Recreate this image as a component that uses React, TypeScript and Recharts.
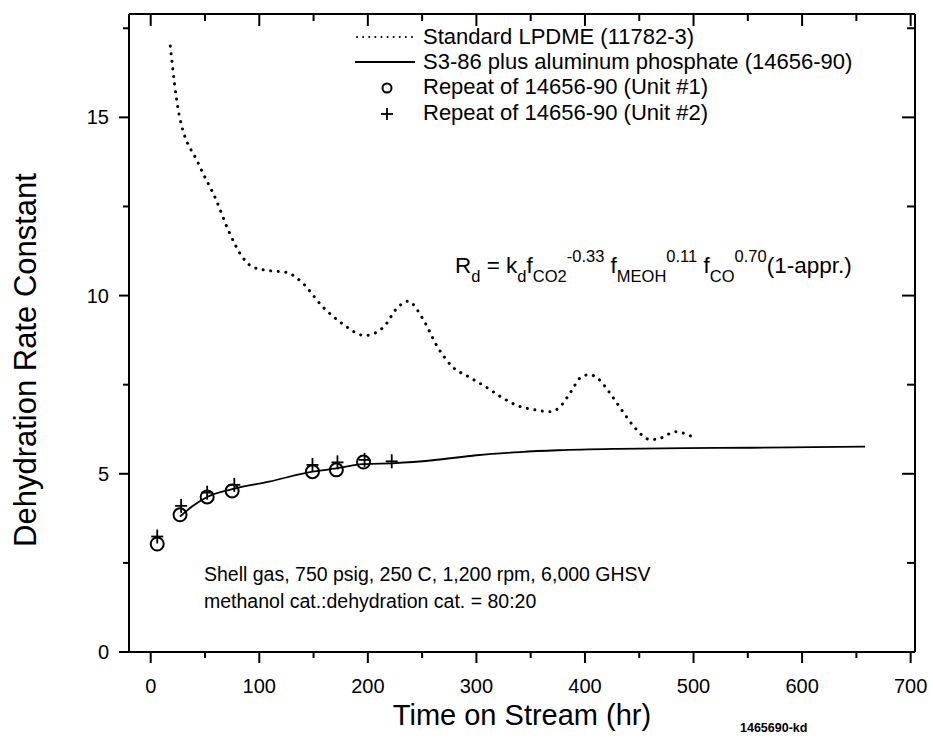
import React from 'react';
import { ComposedChart, Line, Scatter, XAxis, YAxis, Legend } from 'recharts';

// Standard LPDME (11782-3), dotted
const standardX = [18, 26, 44, 60, 72, 84, 94, 109, 125, 140, 158, 177, 197, 214, 227, 237, 251, 264, 278, 293, 308, 322, 338, 353, 368, 376, 387, 396, 404, 412, 424, 435, 446, 453, 460, 468, 476, 483, 499];
const standardY = [17.0, 15.1, 13.7, 12.7, 11.8, 11.1, 10.8, 10.7, 10.65, 10.35, 9.7, 9.2, 8.88, 9.1, 9.65, 9.84, 9.33, 8.57, 8.0, 7.72, 7.45, 7.17, 6.91, 6.8, 6.74, 6.85, 7.3, 7.7, 7.78, 7.67, 7.22, 6.74, 6.29, 6.07, 5.96, 5.98, 6.1, 6.18, 6.04];

// S3-86 plus aluminum phosphate (14656-90), solid
const solidX = [27, 38, 52, 75, 109, 149, 171, 195, 225, 260, 300, 340, 375, 430, 492, 554, 609, 658];
const solidY = [3.8, 4.08, 4.35, 4.57, 4.78, 5.06, 5.15, 5.27, 5.3, 5.38, 5.52, 5.61, 5.66, 5.7, 5.72, 5.73, 5.75, 5.76];

// repeats
const unit1X = [6, 27, 52, 75, 149, 171, 196];
const unit1Y = [3.03, 3.85, 4.35, 4.52, 5.06, 5.11, 5.33];
const unit2X = [6, 28, 52, 77, 149, 172, 197, 222];
const unit2Y = [3.24, 4.1, 4.47, 4.69, 5.25, 5.32, 5.39, 5.35];

const xTicks = [0, 50, 100, 150, 200, 250, 300, 350, 400, 450, 500, 550, 600, 650, 700];
const yTicks = [0, 2.5, 5, 7.5, 10, 12.5, 15, 17.5];

const legendNames = [
  'Standard LPDME (11782-3)',
  'S3-86 plus aluminum phosphate (14656-90)',
  'Repeat of 14656-90 (Unit #1)',
  'Repeat of 14656-90 (Unit #2)',
];

const notes = ['Shell gas, 750 psig, 250 C, 1,200 rpm, 6,000 GHSV', 'methanol cat.:dehydration cat. = 80:20'];

const toPoints = (xs: number[], ys: number[]) => xs.map((x, i) => ({ x, y: ys[i] }));
const standardData = toPoints(standardX, standardY);
const solidData = toPoints(solidX, solidY);
const unit1Data = toPoints(unit1X, unit1Y);
const unit2Data = toPoints(unit2X, unit2Y);

const FONT = '"Liberation Sans", Arial, Helvetica, sans-serif';

const BottomTick = ({ x, y, payload }: any) => {
  const major = payload.value % 100 === 0;
  return (
    <g>
      <line x1={x} x2={x} y1={y} y2={y + (major ? 11 : 6)} stroke="#000" strokeWidth={2} />
      {major && (
        <text x={x} y={y + 41} textAnchor="middle" fontSize={20} fontFamily={FONT} fill="#000">
          {payload.value}
        </text>
      )}
    </g>
  );
};

const TopTick = ({ x, y, payload }: any) => {
  const major = payload.value % 100 === 0;
  return <line x1={x} x2={x} y1={y} y2={y + (major ? 12 : 7)} stroke="#000" strokeWidth={2} />;
};

const LeftTick = ({ x, y, payload }: any) => {
  const major = payload.value % 5 === 0;
  return (
    <g>
      <line x1={x - (major ? 10 : 6)} x2={x} y1={y} y2={y} stroke="#000" strokeWidth={2} />
      {major && (
        <text x={x - 20} y={y + 7} textAnchor="end" fontSize={20} fontFamily={FONT} fill="#000">
          {payload.value}
        </text>
      )}
    </g>
  );
};

const RightTick = ({ x, y, payload }: any) => {
  const major = payload.value % 5 === 0;
  return <line x1={x - (major ? 13 : 8)} x2={x} y1={y} y2={y} stroke="#000" strokeWidth={2} />;
};

const Circle = (p: any) => <circle cx={p.cx} cy={p.cy} r={6.5} fill="none" stroke="#000" strokeWidth={2} />;
const Plus = (p: any) => (
  <g stroke="#000" strokeWidth={1.8}>
    <line x1={p.cx - 6} x2={p.cx + 6} y1={p.cy} y2={p.cy} />
    <line x1={p.cx} x2={p.cx} y1={p.cy - 7} y2={p.cy + 7} />
  </g>
);
const Hidden = () => <g />;

const legendSample = (i: number) => {
  if (i === 0) return <line x1={2} x2={58} y1={12} y2={12} stroke="#000" strokeWidth={2} strokeDasharray="0.1 6" strokeLinecap="round" />;
  if (i === 1) return <line x1={0} x2={60} y1={12} y2={12} stroke="#000" strokeWidth={1.8} />;
  if (i === 2) return <circle cx={32} cy={13} r={4.5} fill="none" stroke="#000" strokeWidth={2} />;
  return (
    <g stroke="#000" strokeWidth={1.8}>
      <line x1={26} x2={38} y1={13} y2={13} />
      <line x1={32} x2={32} y1={7} y2={19} />
    </g>
  );
};

const LegendBox = () => (
  <div style={{ fontFamily: FONT, fontSize: 22, color: '#000' }}>
    {legendNames.map((name, i) => (
      <div key={name} style={{ display: 'flex', alignItems: 'center', height: 25.3 }}>
        <svg width={60} height={24} style={{ marginRight: 8 }}>
          {legendSample(i)}
        </svg>
        <span style={{ whiteSpace: 'nowrap' }}>{name}</span>
      </div>
    ))}
  </div>
);

const sub = { fontSize: 16.5, position: 'relative' as const, top: 9 };
const sup = { fontSize: 16.5, position: 'relative' as const, top: -11 };

const YTitle = () => {
  const cx = 25;
  const cy = 360;
  return (
    <text x={cx} y={cy} transform={`rotate(-90 ${cx} ${cy})`} textAnchor="middle" dominantBaseline="central" fontSize={31} fontFamily={FONT} fill="#000">
      Dehydration Rate Constant
    </text>
  );
};

export default function App() {
  return (
    <div style={{ position: 'absolute', left: 0, top: 0, width: 933, height: 738, background: '#fff' }}>
      <ComposedChart width={933} height={738} margin={{ top: 13, right: 17, left: 0, bottom: 0 }}>
        <XAxis
          dataKey="x"
          type="number"
          domain={[-20, 704]}
          ticks={xTicks}
          interval={0}
          allowDataOverflow
          height={86}
          tickSize={0}
          tickMargin={0}
          tickLine={false}
          tick={<BottomTick />}
          axisLine={{ stroke: '#000', strokeWidth: 2 }}
          label={{ value: 'Time on Stream (hr)', position: 'insideBottom', offset: 13, fontSize: 29, fontFamily: FONT, fill: '#000' }}
        />
        <XAxis
          xAxisId="top"
          dataKey="x"
          orientation="top"
          type="number"
          domain={[-20, 704]}
          ticks={xTicks}
          interval={0}
          allowDataOverflow
          height={1}
          tickSize={0}
          tickMargin={0}
          tickLine={false}
          tick={<TopTick />}
          axisLine={{ stroke: '#000', strokeWidth: 2 }}
        />
        <YAxis
          dataKey="y"
          type="number"
          domain={[0, 17.9]}
          ticks={yTicks}
          interval={0}
          allowDataOverflow
          width={129}
          tickSize={0}
          tickMargin={0}
          tickLine={false}
          tick={<LeftTick />}
          axisLine={{ stroke: '#000', strokeWidth: 2 }}
          label={{ content: <YTitle /> }}
        />
        <YAxis
          yAxisId="right"
          dataKey="y"
          orientation="right"
          type="number"
          domain={[0, 17.9]}
          ticks={yTicks}
          interval={0}
          allowDataOverflow
          width={1}
          tickSize={0}
          tickMargin={0}
          tickLine={false}
          tick={<RightTick />}
          axisLine={{ stroke: '#000', strokeWidth: 2 }}
        />
        <Legend
          layout="vertical"
          align="center"
          verticalAlign="middle"
          content={<LegendBox />}
          wrapperStyle={{ left: 355, top: 24, width: 540, height: 102 }}
        />
        <Line
          data={standardData}
          dataKey="y"
          type="monotone"
          stroke="#000"
          strokeWidth={3}
          strokeDasharray="0.1 7.5"
          strokeLinecap="round"
          dot={false}
          isAnimationActive={false}
          legendType="none"
        />
        <Line
          data={solidData}
          dataKey="y"
          type="monotone"
          stroke="#000"
          strokeWidth={1.8}
          dot={false}
          isAnimationActive={false}
          legendType="none"
        />
        <Scatter data={unit1Data} dataKey="y" shape={Circle} isAnimationActive={false} legendType="none" />
        <Scatter data={unit2Data} dataKey="y" shape={Plus} isAnimationActive={false} legendType="none" />
        {/* binds the top and right frame axes so they get drawn */}
        <Scatter xAxisId="top" yAxisId="right" data={unit2Data} dataKey="y" shape={Hidden} isAnimationActive={false} legendType="none" />
      </ComposedChart>

      <div style={{ position: 'absolute', left: 455, top: 253, fontFamily: FONT, fontSize: 22.5, color: '#000', whiteSpace: 'nowrap' }}>
        R<span style={sub}>d</span> = k<span style={sub}>d</span>f<span style={sub}>CO2</span>
        <span style={sup}>-0.33</span> f<span style={sub}>MEOH</span>
        <span style={sup}>0.11</span> f<span style={sub}>CO</span>
        <span style={sup}>0.70</span>(1-appr.)
      </div>

      <div style={{ position: 'absolute', left: 204, top: 561, fontFamily: FONT, fontSize: 19.5, lineHeight: '27px', color: '#000', whiteSpace: 'nowrap' }}>
        {notes.map((n) => (
          <div key={n}>{n}</div>
        ))}
      </div>

      <div style={{ position: 'absolute', left: 740, top: 721, fontFamily: FONT, fontSize: 12.5, fontWeight: 'bold', color: '#000' }}>
        1465690-kd
      </div>
    </div>
  );
}
